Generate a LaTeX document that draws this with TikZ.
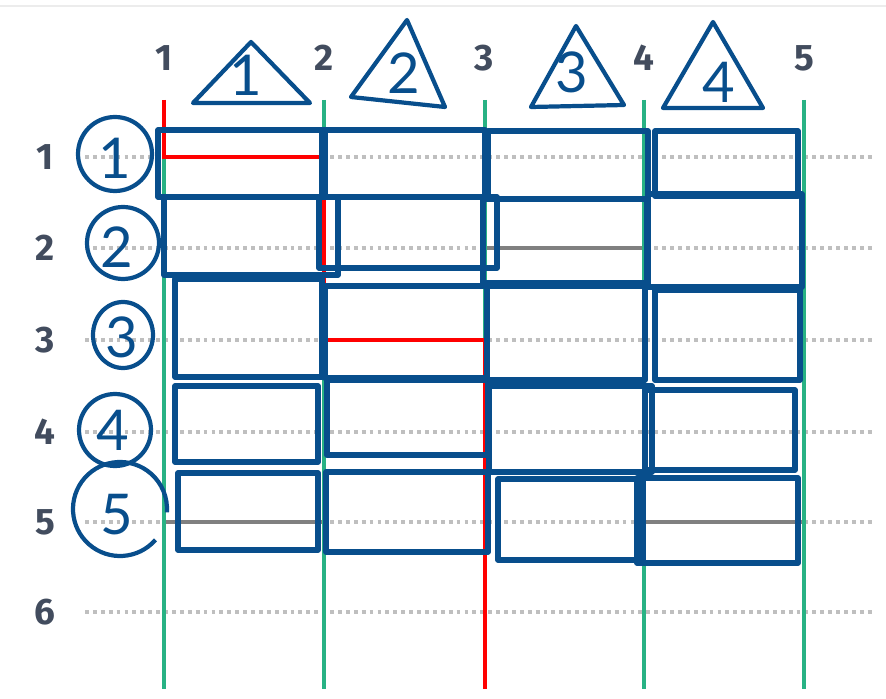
\documentclass[tikz,border=0pt]{standalone}
\usepackage{fontspec}
\setsansfont{Lato}
\newfontfamily\idxfont{Fira Sans}

\definecolor{boxblue}{RGB}{8,78,140}
\definecolor{lanegreen}{RGB}{40,178,132}
\definecolor{idxgray}{RGB}{66,76,94}

\tikzset{
  box/.style={draw=boxblue, line width=3.1pt, line join=round},
  lane/.style={draw=lanegreen, line width=1.8pt},
  route/.style={draw=red, line width=2pt},
  dots/.style={draw=gray!50, line width=2pt, dash pattern=on 2.2pt off 2.3pt},
  rowline/.style={draw=gray, line width=2pt},
  idx/.style={text=idxgray, font=\idxfont\bfseries\fontsize{21}{21}\selectfont},
  scrawl/.style={text=boxblue, inner sep=0pt, font=\sffamily\fontsize{32}{32}\selectfont}
}

\begin{document}
\begin{tikzpicture}[x=0.02cm, y=-0.02cm]
  \useasboundingbox (0,0) rectangle (886,699);
  \draw [gray!15, line width=1.6pt] (0,6) -- (886,6);

  % rows
  \draw[dots] (85,157) -- (872,157);
  \draw[dots] (85,248) -- (872,248);
  \draw[dots] (85,340) -- (872,340);
  \draw[dots] (85,432) -- (872,432);
  \draw[dots] (85,522) -- (872,522);
  \draw[dots] (85,612) -- (872,612);
  \draw[rowline] (485,248) -- (644,248);
  \draw[rowline] (164,522) -- (324,522);
  \draw[rowline] (644,522) -- (804,522);

  % columns
  \draw[lane] (164,157) -- (164,689);
  \draw[lane] (324,100) -- (324,157);
  \draw[lane] (324,340) -- (324,689);
  \draw[lane] (485,100) -- (485,340);
  \draw[lane] (644,100) -- (644,689);
  \draw[lane] (804,100) -- (804,689);
  \draw[route] (164,100) -- (164,157) -- (324,157) -- (324,340) -- (485,340) -- (485,689);

  % boxes
  \draw[box] (158,130) rectangle (325,197);
  \draw[box] (322,130) rectangle (485,197);
  \draw[box] (488,131) rectangle (648,199);
  \draw[box] (655,131) rectangle (798,196);

  \draw[box] (164,197) rectangle (338,275);
  \draw[box] (319,197) rectangle (497,268);
  \draw[box] (483,199) rectangle (647,283);
  \draw[box] (648,194) rectangle (802,287);

  \draw[box] (175,279) rectangle (322,377);
  \draw[box] (325,286) rectangle (487,378);
  \draw[box] (487,286) rectangle (645,380);
  \draw[box] (655,290) rectangle (800,380);

  \draw[box] (175,386) rectangle (318,462);
  \draw[box] (327,380) rectangle (488,455);
  \draw[box] (489,386) rectangle (652,472);
  \draw[box] (645,390) rectangle (795,470);

  \draw[box] (178,473) rectangle (318,550);
  \draw[box] (326,472) rectangle (488,552);
  \draw[box] (498,479) rectangle (643,560);
  \draw[box] (637,478) rectangle (798,563);

  % triangles
  \draw[box, line width=2.4pt] (193,103) -- (251,42) -- (310,103) -- cycle;
  \draw[box, line width=2.4pt] (351,97) -- (407,20) -- (445,107) -- cycle;
  \draw[box, line width=2.4pt] (531,107) -- (576,26) -- (624,105) -- cycle;
  \draw[box, line width=2.4pt] (663,108) -- (713,22) -- (763,108) -- cycle;

  % circles
  \draw[box, line width=2.4pt] (115,154) circle [radius=37];
  \draw[box, line width=2.4pt] (123,243) circle [radius=36];
  \draw[box, line width=2.4pt] (123,335) circle [x radius=30, y radius=33];
  \draw[box, line width=2.4pt] (115,430) circle [radius=36];
  \draw[box, line width=2.4pt] (120,509) ++(41:47) arc [start angle=41, end angle=364, radius=47];

  \node[scrawl] (tri1) at (246,75) {1};
  \node[scrawl] (tri2) at (404,73) {2};
  \node[scrawl] (tri3) at (572,72) {3};
  \node[scrawl] (tri4) at (719,82) {4};
  \node[scrawl] (ring1) at (115,158) {1};
  \node[scrawl] (ring2) at (117,247) {2};
  \node[scrawl] (ring3) at (122,337) {3};
  \node[scrawl] (ring4) at (113,430) {4};
  \node[scrawl] (ring5) at (117,515) {5};

  % index labels
  \node[idx] (col1) at (164,58) {1};
  \node[idx] (col2) at (324,58) {2};
  \node[idx] (col3) at (484,58) {3};
  \node[idx] (col4) at (644,58) {4};
  \node[idx] (col5) at (804,58) {5};
  \node[idx] (row1) at (45,157) {1};
  \node[idx] (row2) at (45,248) {2};
  \node[idx] (row3) at (45,340) {3};
  \node[idx] (row4) at (45,432) {4};
  \node[idx] (row5) at (45,522) {5};
  \node[idx] (row6) at (45,612) {6};
\end{tikzpicture}
\end{document}
